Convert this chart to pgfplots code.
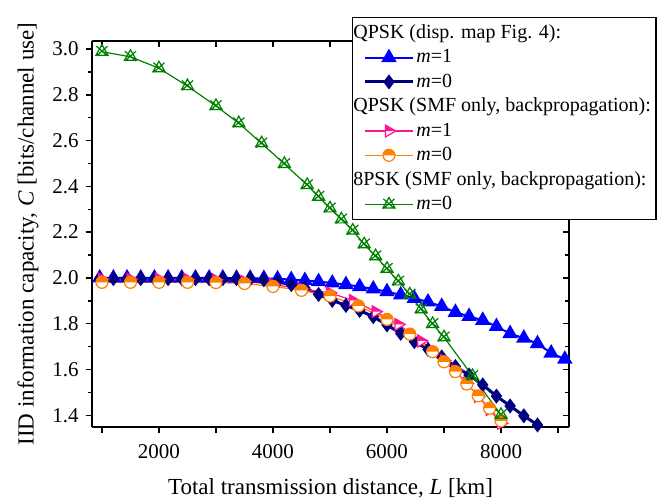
\documentclass[border=0pt]{standalone}
\usepackage{fontspec}
\setmainfont{Liberation Serif}
\usepackage{pgfplots}
\pgfplotsset{compat=1.18}
\usetikzlibrary{plotmarks}

\definecolor{cblue}{RGB}{0,0,255}
\definecolor{cnavy}{RGB}{0,0,128}
\definecolor{cpink}{RGB}{255,20,147}
\definecolor{corange}{RGB}{255,128,0}
\definecolor{cgreen}{RGB}{0,128,0}

% circle, upper half filled, lower half white
\pgfdeclareplotmark{halfo}{%
  \begin{pgfscope}\pgfsetfillcolor{white}%
  \pgfpathcircle{\pgfpointorigin}{\pgfplotmarksize}\pgfusepathqfill\end{pgfscope}%
  \pgfpathmoveto{\pgfqpoint{\pgfplotmarksize}{0pt}}%
  \pgfpatharc{0}{180}{\pgfplotmarksize}\pgfpathclose\pgfusepathqfill
  \pgfpathcircle{\pgfpointorigin}{\pgfplotmarksize}\pgfusepathqstroke}
% right-pointing triangle, upper half filled
\pgfdeclareplotmark{halfrtri}{%
  \begin{pgfscope}\pgfsetfillcolor{white}%
  \pgfpathmoveto{\pgfqpoint{\pgfplotmarksize}{0pt}}%
  \pgfpathlineto{\pgfqpoint{-.5\pgfplotmarksize}{.866\pgfplotmarksize}}%
  \pgfpathlineto{\pgfqpoint{-.5\pgfplotmarksize}{-.866\pgfplotmarksize}}%
  \pgfpathclose\pgfusepathqfill\end{pgfscope}%
  \pgfpathmoveto{\pgfqpoint{\pgfplotmarksize}{0pt}}%
  \pgfpathlineto{\pgfqpoint{-.5\pgfplotmarksize}{.866\pgfplotmarksize}}%
  \pgfpathlineto{\pgfqpoint{-.5\pgfplotmarksize}{0pt}}%
  \pgfpathclose\pgfusepathqfill
  \pgfpathmoveto{\pgfqpoint{\pgfplotmarksize}{0pt}}%
  \pgfpathlineto{\pgfqpoint{-.5\pgfplotmarksize}{.866\pgfplotmarksize}}%
  \pgfpathlineto{\pgfqpoint{-.5\pgfplotmarksize}{-.866\pgfplotmarksize}}%
  \pgfpathclose\pgfusepathqstroke}
% open triangle with a cross
\pgfdeclareplotmark{trix}{%
  \pgfpathmoveto{\pgfqpoint{0pt}{\pgfplotmarksize}}%
  \pgfpathlineto{\pgfqpoint{-.866\pgfplotmarksize}{-.5\pgfplotmarksize}}%
  \pgfpathlineto{\pgfqpoint{.866\pgfplotmarksize}{-.5\pgfplotmarksize}}%
  \pgfpathclose
  \pgfpathmoveto{\pgfqpoint{-.8\pgfplotmarksize}{-.6\pgfplotmarksize}}%
  \pgfpathlineto{\pgfqpoint{.8\pgfplotmarksize}{.8\pgfplotmarksize}}%
  \pgfpathmoveto{\pgfqpoint{-.8\pgfplotmarksize}{.8\pgfplotmarksize}}%
  \pgfpathlineto{\pgfqpoint{.8\pgfplotmarksize}{-.6\pgfplotmarksize}}%
  \pgfusepathqstroke}

\begin{document}
\begin{tikzpicture}
\path[use as bounding box] (-46pt,-36pt) rectangle (286.5pt,213.5pt);
\pgfplotsset{frame/.style={scale only axis, width=238.5pt, height=193pt,
  xmin=825, xmax=9193, ymin=1.349, ymax=3.035,
  axis line style={-, line width=0.8pt},
  major tick length=3.2pt, minor tick length=2pt,
  every tick/.style={black, line width=0.7pt},
  xtick={1000,2000,...,9000},
  ytick={1.4,1.6,1.8,2.0,2.2,2.4,2.6,2.8,3.0},
  minor ytick={1.5,1.7,1.9,2.1,2.3,2.5,2.7,2.9},
  ticklabel style={font=\fontsize{10.5}{12}\selectfont}}}
% top and right axis lines, ticks inward
\begin{axis}[frame, axis x line*=top, axis y line*=right, tick align=inside,
  xticklabels={}, yticklabels={}]
\end{axis}
\begin{axis}[frame, axis x line*=bottom, axis y line*=left, tick align=outside,
  xticklabels={,2000,,4000,,6000,,8000,},
  yticklabels={1.4,1.6,1.8,2.0,2.2,2.4,2.6,2.8,3.0},
  xticklabel style={yshift=-2pt},
  xlabel={Total transmission distance, \textit{L} [km]},
  ylabel={IID information capacity, \textit{C} [bits/channel use]},
  xlabel style={yshift=-3pt},
  label style={font=\fontsize{11.5}{13}\selectfont},
  legend image code/.code={\path (-4pt,0pt);
    \draw[mark repeat=2,mark phase=2] plot coordinates {(0cm,0cm) (0.42cm,0cm) (0.84cm,0cm)};},
  legend cell align=left,
  legend style={at={(rel axis cs:0.545,1.062)}, anchor=north west,
    draw=black, line width=0.6pt, fill=white,
    font=\fontsize{10}{12}\selectfont, inner xsep=1.5pt, inner ysep=2.5pt,
    nodes={inner sep=1pt}, row sep=2pt},
]
\addlegendimage{empty legend}
\addlegendentry{\hspace*{-31.5pt}QPSK (disp. map Fig. 4):}

\addplot[cblue, line width=1pt, mark=triangle*, mark size=3.5pt, mark options={solid, fill=cblue}] coordinates {
(960,2.000) (1200,2.000) (1440,2.000) (1680,2.000) (1920,2.000) (2160,2.000)
(2400,2.000) (2640,2.000) (2880,2.000) (3120,2.000) (3360,1.999) (3600,1.999)
(3840,1.998) (4080,1.996) (4320,1.993) (4560,1.989) (4800,1.984) (5040,1.978)
(5280,1.971) (5520,1.962) (5760,1.952) (6000,1.940) (6240,1.926) (6480,1.911)
(6720,1.895) (6960,1.876) (7200,1.850) (7440,1.832) (7680,1.815) (7920,1.788)
(8160,1.757) (8400,1.737) (8640,1.713) (8880,1.672) (9120,1.645)
};
\addlegendentry{\textit{m}=1}

\addplot[cnavy, line width=1.5pt, mark=diamond*, mark size=3.3pt, mark options={solid, fill=cnavy, line width=0.6pt}] coordinates {
(960,1.997) (1200,1.997) (1440,1.997) (1680,1.997) (1920,1.997) (2160,1.997)
(2400,1.997) (2640,1.997) (2880,1.997) (3120,1.997) (3360,1.997) (3600,1.996)
(3840,1.992) (4080,1.983) (4320,1.971) (4560,1.956) (4800,1.928) (5040,1.902)
(5280,1.880) (5520,1.858) (5760,1.831) (6000,1.795) (6240,1.758) (6480,1.722)
(6720,1.688) (6960,1.655) (7200,1.613) (7440,1.576) (7680,1.533) (7920,1.484)
(8160,1.441) (8400,1.398) (8640,1.358)
};
\addlegendentry{\textit{m}=0}

\addlegendimage{empty legend}
\addlegendentry{\hspace*{-31.5pt}QPSK (SMF only, backpropagation):}

\addplot[cpink, line width=0.6pt, mark=halfrtri, mark size=3.4pt, mark options={solid, fill=cpink}] coordinates {
(1000,1.995) (1500,1.995) (2000,1.995) (2500,1.994) (3000,1.992) (3500,1.985)
(4000,1.972) (4500,1.952) (5000,1.935) (5400,1.902) (5800,1.853) (6200,1.797)
(6600,1.725) (7000,1.640) (7200,1.595) (7400,1.540) (7600,1.483) (7800,1.425)
(8000,1.365)
};
\addlegendentry{\textit{m}=1}

\addplot[corange, line width=0.6pt, mark=halfo, mark size=3pt, mark options={solid, fill=corange}] coordinates {
(1000,1.981) (1500,1.981) (2000,1.981) (2500,1.981) (3000,1.980) (3500,1.976)
(4000,1.963) (4500,1.946) (5000,1.921) (5500,1.878) (6000,1.819) (6400,1.755)
(6800,1.678) (7000,1.634) (7200,1.591) (7400,1.537) (7600,1.485) (7800,1.431)
(8000,1.376)
};
\addlegendentry{\textit{m}=0}

\addlegendimage{empty legend}
\addlegendentry{\hspace*{-31.5pt}8PSK (SMF only, backpropagation):}

\addplot[cgreen, line width=0.6pt, mark=trix, mark size=3.5pt, mark options={solid}] coordinates {
(1000,2.988) (1500,2.966) (2000,2.916) (2500,2.838) (3000,2.751) (3400,2.676)
(3800,2.588) (4200,2.498) (4600,2.406) (4800,2.355) (5000,2.304) (5200,2.256)
(5400,2.207) (5600,2.147) (5800,2.095) (6000,2.040) (6200,1.985) (6400,1.928)
(6600,1.863) (6800,1.799) (7000,1.741) (7500,1.572) (8000,1.402)
};
\addlegendentry{\textit{m}=0}
\end{axis}
\end{tikzpicture}
\end{document}
